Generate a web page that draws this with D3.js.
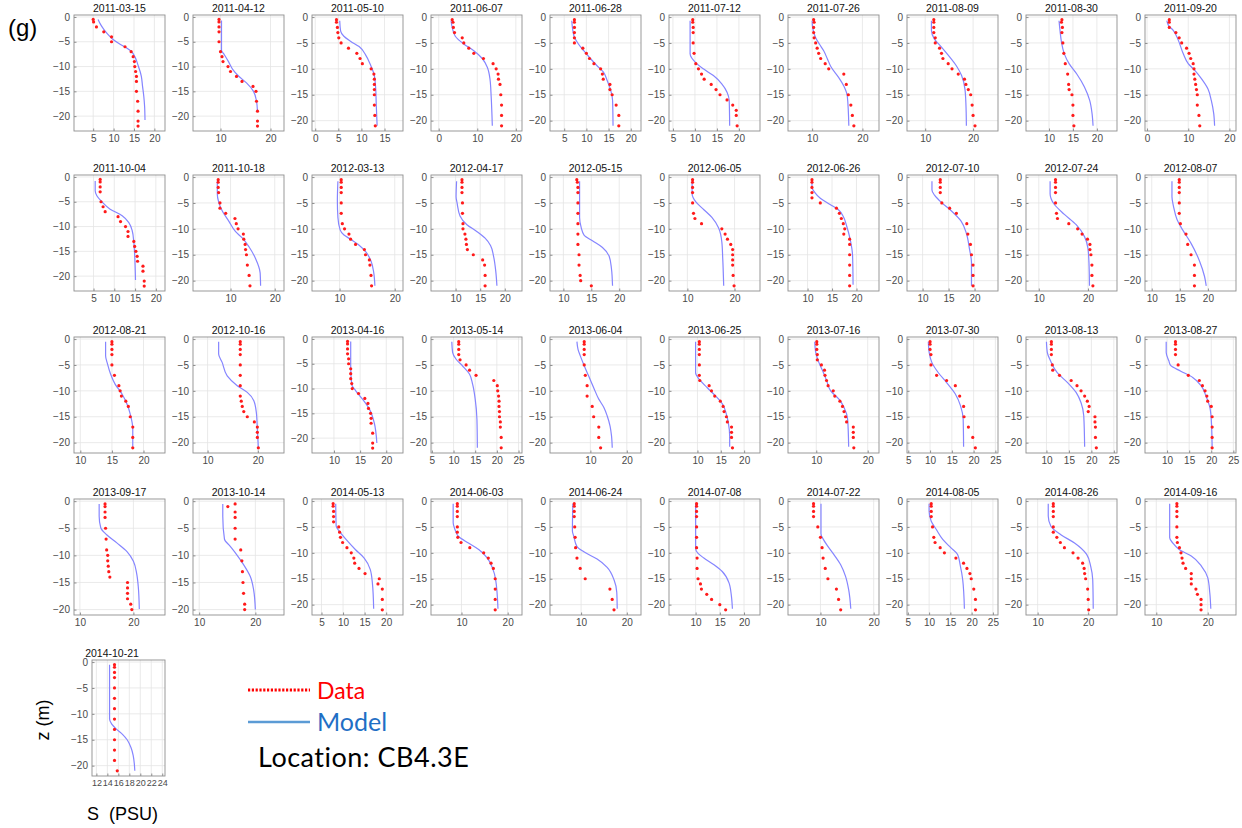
<!DOCTYPE html>
<html><head><meta charset="utf-8">
<script src="https://cdn.jsdelivr.net/npm/d3@7"></script>
<style>body{margin:0;background:#fff}svg{display:block}</style>
</head><body><svg id="c" width="1242" height="828"></svg>
<script>
const dates = ["2011-03-15","2011-04-12","2011-05-10","2011-06-07","2011-06-28","2011-07-12","2011-07-26","2011-08-09","2011-08-30","2011-09-20",
"2011-10-04","2011-10-18","2012-03-13","2012-04-17","2012-05-15","2012-06-05","2012-06-26","2012-07-10","2012-07-24","2012-08-07",
"2012-08-21","2012-10-16","2013-04-16","2013-05-14","2013-06-04","2013-06-25","2013-07-16","2013-07-30","2013-08-13","2013-08-27",
"2013-09-17","2013-10-14","2014-05-13","2014-06-03","2014-06-24","2014-07-08","2014-07-22","2014-08-05","2014-08-26","2014-09-16",
"2014-10-21"];

const xDomains = [[0.3,22.6],[4.5,22.7],[-0.7,19],[-2,21.6],[1.8,22.3],[4.1,24.8],[5.2,23.3],[6.2,25.2],[5.2,24.2],[-0.5,21.6],
[0.3,22.2],[1.5,22.1],[5,21.5],[5,23.5],[7.6,23.9],[6.1,25.4],[6,24.6],[7,24.5],[7.4,25.9],[8.8,25],
[9,23.4],[7.1,25.2],[5.8,23.2],[4.8,25.8],[-1.1,23.9],[3.9,23.4],[4.5,22.2],[4.7,25.6],[5.45,25.7],[5,25.6],
[8.9,25.9],[8.9,25.1],[2.8,23.9],[3.4,23.1],[3.2,23.1],[4.5,23.3],[3.9,21],[4.8,26.2],[7.7,25.7],[7.8,25.5],
[11.2,24.5]];

const xTicks = [[5,10,15,20],[10,20],[0,5,10,15],[0,10,20],[5,10,15,20],[5,10,15,20],[10,20],[10,20],[10,15,20],[0,10,20],
[5,10,15,20],[10,20],[10,20],[10,15,20],[10,15,20],[10,20],[10,15,20],[10,15,20],[10,20],[10,15,20],
[10,15,20],[10,20],[10,15,20],[5,10,15,20,25],[10,20],[10,15,20],[10,20],[5,10,15,20,25],[10,15,20,25],[10,15,20,25],
[10,20],[10,20],[5,10,15,20],[10,20],[10,20],[10,15,20],[10,20],[5,10,15,20,25],[10,20],[10,20],
[12,14,16,18,20,22,24]];

const zMins = [-23,-23,-22,-22,-22,-22,-22,-22,-22,-22,
-23,-22,-22,-22,-22,-22,-22,-22,-22,-22,
-22,-22,-23,-22,-22,-22,-22,-22,-22,-22,
-21,-21,-22,-22,-22,-22,-22,-22,-22,-22,
-22];
const zTicks = [0,-5,-10,-15,-20];

// model profiles: [depth z (m), salinity S (PSU)]
const modelProfiles = [
[[-0.5,6.2],[-1.5,6.8],[-2.5,7.6],[-3.5,8.6],[-4.5,9.8],[-5.5,11.6],[-6.3,13.3],[-7,14.4],[-8,15.2],[-9,15.7],[-10,16.1],[-11,16.5],[-12,16.8],[-14,17.1],[-16,17.4],[-18,17.6],[-20.8,17.7]],
[[-0.7,10.2],[-6.7,10.2],[-7.5,10.7],[-9,11.6],[-10.5,12.4],[-12,13.7],[-13.3,15.2],[-15,16.6],[-17,17.2],[-19,17.4]],
[[-0.7,5.3],[-2.7,5.5],[-3.7,6.2],[-4.7,7.7],[-5.7,9.5],[-7.3,10.9],[-9.3,12],[-11.3,12.8],[-14,13.1],[-16.7,13.2],[-21,13.4]],
[[-0.7,3.2],[-2,3.5],[-3.7,4.3],[-5.2,6.5],[-6.5,9.1],[-8,11.3],[-9.7,12.6],[-12,13.3],[-15.3,13.6],[-21,13.9]],
[[-0.7,6.7],[-2.3,6.9],[-3.9,7.3],[-5.2,8.2],[-6.5,9.4],[-8,10.9],[-9.4,12.4],[-10.6,13.8],[-12.3,14.7],[-14.2,15.5],[-16.1,15.9],[-21,16]],
[[-0.7,8.9],[-7.1,8.9],[-9,10.4],[-10,11.9],[-11.3,14.2],[-12.9,16.1],[-14.5,17.3],[-16.1,17.8],[-21,17.9]],
[[-0.7,10],[-2,10.1],[-4,10.7],[-5.3,11.5],[-6.5,12.3],[-8,13],[-9.7,13.8],[-11.7,15.3],[-13.3,16.3],[-15.3,17],[-21,17.3]],
[[-0.7,11.3],[-2.6,11.3],[-4.2,11.9],[-5.8,13.4],[-7.7,15.1],[-9.4,16.5],[-11.3,17.6],[-13.9,18.3],[-16.8,18.5],[-21,18.6]],
[[-0.7,12.1],[-2.6,12.3],[-4.8,12.6],[-7.1,13.2],[-9,14.2],[-11,15.8],[-13.5,17.4],[-16.1,18.5],[-18.7,19],[-21,19.2]],
[[-0.7,4.8],[-1.6,5.2],[-2.6,6.4],[-4.5,7.6],[-7.1,8.8],[-9,10],[-10.3,11.6],[-11.9,13.2],[-13.9,14.8],[-16.1,15.6],[-18.7,16.2],[-21,16.4]],
[[-0.8,5.4],[-2.8,5.4],[-3.8,5.8],[-5,7],[-6.5,9],[-7.8,11.9],[-9.2,13.5],[-10.8,14.3],[-13.2,14.7],[-15.8,14.9],[-20.8,15.1]],
[[-0.8,7],[-3.2,7],[-4.8,7.3],[-6.5,8.1],[-8.5,9.6],[-10.5,11.1],[-11.8,12.7],[-13.5,14.2],[-15.8,15.7],[-18.5,16.7],[-21,16.8]],
[[-0.8,9.7],[-4.5,9.6],[-7.8,9.7],[-10.2,10.1],[-11.2,10.8],[-12,12],[-13.2,13.6],[-14.5,14.8],[-16.2,15.7],[-18.5,16.2],[-21,16.4]],
[[-0.8,10.2],[-3.8,10.1],[-5,10.3],[-7.5,10.9],[-9.2,12.3],[-10.5,14.3],[-11.8,16],[-13.2,17.1],[-15.2,17.7],[-18.5,18.2],[-21,18.4]],
[[-0.8,12.9],[-7.8,12.9],[-9.8,13.2],[-11.2,13.7],[-12.3,15.2],[-13.6,17],[-15.3,18.2],[-17.6,18.6],[-21,18.8]],
[[-0.8,11],[-3.2,11],[-4.8,11.8],[-6.3,13.5],[-7.8,15.2],[-9.8,16.6],[-12.5,17.3],[-15.8,17.5],[-21,17.7]],
[[-0.8,10.9],[-2,10.9],[-3,11.5],[-4.1,12.6],[-5.3,14.6],[-6.3,16.3],[-7.6,17.3],[-9.5,18],[-12,18.7],[-15.2,19.2],[-20.8,19.3]],
[[-0.8,11.8],[-2.5,11.8],[-3.5,12.3],[-4.8,13.5],[-6.5,15.5],[-8.5,17.4],[-10.8,18.4],[-13.8,19],[-16.5,19.4],[-21,19.4]],
[[-0.8,12.3],[-3.2,12.3],[-5.2,13.1],[-7.2,15.2],[-9.2,17.6],[-11.5,19.3],[-13.8,20],[-16.5,20.2],[-21,20.3]],
[[-0.8,13.6],[-3.8,13.6],[-5.8,13.9],[-8.2,14.5],[-10.2,15.5],[-12.8,17],[-16.2,18.5],[-19.2,19.4],[-21,19.7]],
[[-0.5,14],[-3.2,14],[-4.8,14.3],[-6.8,14.8],[-8.7,15.5],[-10.6,16.6],[-12.6,17.4],[-14.5,17.9],[-17.4,18.3],[-20.8,18.3]],
[[-0.5,12.2],[-2.9,12.2],[-4.5,12.9],[-7.1,13.9],[-9,15.9],[-10.3,17.9],[-11.9,19.2],[-14.2,19.7],[-17.4,19.9],[-21,20.1]],
[[-0.5,13.2],[-5.4,13.2],[-9.2,13.4],[-10.5,14.2],[-12.2,15.5],[-14.2,16.8],[-16.9,17.7],[-21,18.2]],
[[-0.5,9.6],[-2.6,9.8],[-3.9,10.6],[-5.2,12.1],[-6.8,13.7],[-8.7,14.4],[-11.6,15],[-15.5,15.4],[-21,15.5]],
[[-0.5,6.3],[-2,6.6],[-3.2,7.2],[-4.8,8.1],[-7.1,9.5],[-9.4,10.9],[-11.6,12.3],[-13.2,13.7],[-14.8,14.6],[-16.8,15.4],[-18.7,15.8],[-21,16]],
[[-0.5,9.6],[-6.5,9.6],[-7.8,10.4],[-9.4,12.1],[-11,13.9],[-12.6,15.4],[-14.2,16.1],[-16.1,16.6],[-18.7,16.9],[-20.8,16.9]],
[[-0.5,9.7],[-2.6,9.9],[-4.5,10.5],[-6.5,11.4],[-8,12],[-10,12.8],[-11.6,14.4],[-13.2,15.4],[-15.5,16.1],[-20.8,16.3]],
[[-0.5,9.6],[-2.6,9.8],[-4.5,10.4],[-6.5,11.9],[-8.4,13.8],[-10.6,15.8],[-12.9,17],[-15.5,17.6],[-20.8,17.7]],
[[-0.5,10],[-2.6,10.2],[-4.2,10.9],[-6.5,12.4],[-8.4,14.7],[-10.3,16.6],[-12.3,17.7],[-14.8,18.3],[-20.8,18.5]],
[[-0.5,9.8],[-2.6,9.8],[-4.2,10.4],[-5.1,10.8],[-6.2,13.1],[-7.4,15.8],[-9,17.7],[-11,18.8],[-12.9,19.6],[-15.5,20],[-20.8,20.2]],
[[-0.5,13.6],[-2.8,13.6],[-4.9,13.9],[-6.2,15],[-7.7,16.9],[-9.3,18.8],[-11.1,20],[-13.3,20.6],[-15.7,20.9],[-19.9,21.1]],
[[-0.5,14.2],[-2.8,14.2],[-7,14.5],[-8.3,15.5],[-9.9,16.7],[-11.7,17.9],[-13.9,19.1],[-16.4,19.7],[-20,20]],
[[-0.5,8.3],[-4.8,8.4],[-6.1,9.4],[-7.7,11],[-9.4,12.9],[-11,14.9],[-13.2,16.3],[-15.8,16.8],[-20.8,17.1]],
[[-0.5,8.2],[-4.2,8.2],[-5.5,8.6],[-6.8,9.3],[-8.1,11.5],[-9.4,13.8],[-11,15.6],[-12.9,16.7],[-15.2,17.4],[-20.8,17.9]],
[[-0.5,8.2],[-5.8,8.1],[-6.8,8.4],[-8.8,9.1],[-9.8,10.6],[-11.2,13.5],[-12.8,15.7],[-15.2,17.2],[-17.6,17.8],[-20.8,17.9]],
[[-0.5,10],[-9.2,10],[-10.1,10.5],[-11,11.7],[-12.3,13.8],[-13.6,15.5],[-15.8,16.9],[-18.4,17.4],[-20.8,17.6]],
[[-0.5,10.1],[-6.3,10.1],[-7.5,10.6],[-8.6,11.3],[-10.3,12.5],[-12.3,13.8],[-14.5,14.7],[-17.1,15.3],[-20.8,15.7]],
[[-0.5,10],[-1.9,10],[-3.9,10.5],[-5.5,11.7],[-7.4,13.2],[-9,15.1],[-10.3,16.7],[-12.3,17.3],[-15.2,17.9],[-20.8,18.3]],
[[-0.5,12.1],[-2.9,12.1],[-4.8,12.6],[-6.5,14.6],[-8.1,17.3],[-10.3,19.7],[-12.6,20.5],[-15.2,20.9],[-20.8,21]],
[[-0.5,12.6],[-7.1,12.6],[-8.1,13.2],[-9.4,14.5],[-10.6,16.8],[-12.6,18.8],[-14.8,20],[-17.7,20.4],[-20.8,20.6]],
[[-0.5,14.4],[-11,14.4],[-12,14.8],[-13,15.7],[-14,16.8],[-15,17.6],[-16.5,18.3],[-18,18.7],[-21,19]]
];

// observed profiles: [depth z (m), salinity S (PSU)]
const dataProfiles = [
[[-0.5,5.0],[-1,5.1],[-2,5.8],[-3,7.6],[-4,9.5],[-5,9.5],[-6,12.8],[-7,14.3],[-8,14.8],[-9,15.1],[-10,15.2],[-11,15.4],[-12,15.6],[-13,15.6],[-15,15.6],[-17,15.9],[-19,16],[-21,16],[-22,16]],
[[-0.5,9.7],[-1,9.7],[-2,9.7],[-3,9.7],[-5,9.7],[-7,10],[-8,10.3],[-9,10.5],[-10,11.5],[-11,12],[-12,13.2],[-13,14.3],[-14,16.5],[-15,17.1],[-17,17.2],[-19,17.4],[-21,17.4],[-22,17.4]],
[[-0.5,4.6],[-1,4.6],[-2,4.8],[-3,4.9],[-4,5.1],[-5,5.6],[-6,7.2],[-7,9],[-8,9.7],[-9,10.2],[-10,12.1],[-11,12.7],[-12,12.8],[-13,12.8],[-14,12.8],[-15,12.8],[-17,12.8],[-19,12.9],[-21,13]],
[[-0.5,3.5],[-1,3.7],[-2,3.8],[-3,4.1],[-4,6.1],[-5,6.5],[-6,7.8],[-7,9.1],[-8,11.6],[-9,14.1],[-10,14.9],[-11,15.4],[-12,15.5],[-13,15.9],[-15,16.1],[-17,16.3],[-19,16.3],[-21,16.3]],
[[-0.5,7.3],[-1,7.3],[-2,7.3],[-3,7.3],[-4,7.3],[-5,7.3],[-6,9.2],[-7,10],[-8,10.7],[-9,11.7],[-10,13.2],[-11,13.6],[-12,13.8],[-13,15.3],[-14,15.3],[-15,15.8],[-17,16.7],[-19,17.3],[-21,17.3]],
[[-0.5,9.5],[-1,9.5],[-2,9.6],[-3,9.6],[-5,9.6],[-7,9.8],[-9,10.2],[-10,10.8],[-11,11.5],[-12,12.1],[-13,13.7],[-14,14.8],[-15,15.7],[-16,17.3],[-17,18.6],[-18,19.4],[-19,19.4],[-21,19.6]],
[[-0.5,10.3],[-1,10.4],[-2,10.3],[-3,10.3],[-4,10.4],[-5,10.7],[-6,11],[-7,11.3],[-8,11.7],[-9,12.6],[-10,13.3],[-11,16.3],[-13,16.8],[-15,17.2],[-17,17.7],[-19,18],[-21,18.3]],
[[-0.5,11.8],[-1,11.8],[-2,11.8],[-3,11.8],[-4,12.1],[-5,12.1],[-6,13],[-7,13.4],[-8,13.7],[-9,14.8],[-10,15.6],[-11,16.9],[-12,18.2],[-13,18.5],[-14,19],[-15,19.5],[-17,19.8],[-19,20],[-21,20.4]],
[[-0.5,12.7],[-1,12.6],[-2,12.8],[-3,12.7],[-5,12.9],[-7,13.1],[-9,13.4],[-11,13.9],[-13,14.1],[-14,14.2],[-15,14.8],[-17,15],[-19,15],[-21,15.2]],
[[-0.5,5.4],[-1,5.4],[-2,5.4],[-3,7],[-4,7.8],[-5,8.4],[-6,9.6],[-7,10.2],[-8,10.6],[-9,11.2],[-10,11.4],[-11,11.4],[-12,11.6],[-13,11.8],[-14,12],[-15,12.2],[-17,12.2],[-19,12.6],[-21,12.8]],
[[-0.5,6.6],[-1,6.6],[-2,6.6],[-3,6.6],[-5,6.8],[-6,7.3],[-7,7.8],[-8,10.9],[-9,11.5],[-10,12.7],[-11,13.3],[-12,13.3],[-13,14.7],[-14,14.9],[-15,15.2],[-16,15.5],[-17,15.6],[-18,16.9],[-19,16.9],[-21,17.2],[-22,17.2]],
[[-0.5,7.2],[-1,7.2],[-2,7.2],[-3,7.3],[-5,7.6],[-6,7.6],[-7,8.9],[-8,11],[-9,11.3],[-10,11.7],[-11,12.9],[-12,13],[-13,13.3],[-14,13.4],[-15,13.6],[-17,13.8],[-19,14.2],[-21,14.4]],
[[-0.5,10.3],[-1,10.3],[-2,10.3],[-3,10.3],[-5,10.3],[-7,10.3],[-9,10.5],[-10,10.9],[-11,11.7],[-12,12],[-13,12.9],[-14,14.5],[-15,14.7],[-16,15.4],[-17,15.5],[-19,15.7],[-21,15.8]],
[[-0.5,11.3],[-1,11.3],[-2,11.3],[-3,11.3],[-5,11.4],[-7,11.4],[-9,11.5],[-10,11.5],[-11,11.9],[-12,12.1],[-13,12.2],[-14,12.4],[-15,13.6],[-16,15.5],[-17,15.9],[-19,16],[-21,16]],
[[-0.5,12.4],[-1,12.5],[-2,12.6],[-3,12.6],[-5,12.6],[-7,12.6],[-9,12.6],[-11,12.6],[-13,12.6],[-15,12.8],[-17,12.8],[-19,13],[-20,13.1],[-21,15]],
[[-0.5,11.1],[-1,11.1],[-2,11.1],[-3,11.1],[-5,11.1],[-7,11.3],[-8,11.6],[-9,13],[-10,17.3],[-11,18],[-12,18.5],[-13,19.2],[-14,19.6],[-15,19.6],[-16,19.6],[-17,19.6],[-19,19.7],[-21,19.9]],
[[-0.5,10.9],[-1,10.9],[-2,10.9],[-3,10.9],[-4,10.9],[-5,12.6],[-6,15.9],[-7,16.5],[-8,16.9],[-9,17.3],[-10,17.6],[-11,17.4],[-12,18.6],[-13,18.6],[-15,18.6],[-17,18.6],[-19,18.6],[-21,18.6]],
[[-0.5,13.4],[-1,13.4],[-2,13.4],[-3,13.4],[-5,13.7],[-6,15.2],[-7,16.5],[-9,18.5],[-11,18.7],[-13,19.2],[-15,19.4],[-17,19.7],[-19,19.7],[-21,19.7]],
[[-0.5,13.4],[-1,13.4],[-2,13.4],[-3,13.4],[-5,13.4],[-7,13.6],[-8,13.8],[-9,16.1],[-10,17.9],[-11,18.8],[-12,19.9],[-13,20.4],[-14,20.4],[-15,20.6],[-17,20.8],[-19,20.8],[-21,21]],
[[-0.5,14.9],[-1,14.9],[-2,14.9],[-3,14.9],[-5,14.9],[-7,14.9],[-9,15.1],[-11,16.1],[-13,16.4],[-15,17],[-17,17.6],[-19,17.6],[-21,17.6]],
[[-0.5,15],[-1,15],[-2,15],[-3,15],[-5,15],[-7,15.4],[-9,16.1],[-10,16.3],[-11,16.5],[-12,17.2],[-13,17.6],[-15,17.9],[-17,18.3],[-19,18.3],[-21,18.3]],
[[-0.5,16.5],[-1,16.5],[-2,16.5],[-3,16.5],[-5,16.5],[-7,16.5],[-9,16.5],[-11,16.5],[-12,16.7],[-13,16.9],[-14,17.2],[-15,17.9],[-16,19.3],[-17,19.9],[-18,19.9],[-19,19.9],[-21,20.1]],
[[-0.5,12.6],[-1,12.6],[-2,12.6],[-3,12.6],[-4,12.8],[-5,12.8],[-6,13.2],[-7,13.2],[-8,13.2],[-9,13.4],[-10,13.5],[-11,14.7],[-12,15.9],[-13,16.5],[-14,16.6],[-15,17],[-16,17.1],[-17,17.1],[-19,17.4],[-21,17.4],[-22,17.4]],
[[-0.5,11.2],[-1,11.2],[-2,11.2],[-3,11.2],[-4,11.5],[-5,12.9],[-6,13.7],[-7,15.2],[-8,19.3],[-9,20.1],[-10,20.2],[-11,20.4],[-12,20.5],[-13,20.5],[-14,20.6],[-15,20.6],[-16,20.8],[-17,20.8],[-19,21],[-21,21]],
[[-0.5,8.3],[-1,8.3],[-2,8.3],[-3,8.3],[-5,8.3],[-7,8.6],[-9,9.1],[-11,9.1],[-13,10.5],[-15,10.9],[-17,12.3],[-19,12.3],[-21,12.8]],
[[-0.5,10.4],[-1,10.4],[-2,10.4],[-3,10.4],[-5,10.4],[-7,10.4],[-8,10.5],[-9,12.5],[-10,13],[-11,13.7],[-12,14.9],[-13,15.5],[-14,15.7],[-15,16.2],[-16,16.4],[-17,17.3],[-18,17.3],[-19,17.3],[-21,17.5]],
[[-0.5,10.1],[-1,10.1],[-2,10.1],[-3,10.2],[-4,10.2],[-5,11],[-6,11.6],[-7,11.7],[-8,12],[-9,12.3],[-10,13.3],[-11,13.6],[-12,14.6],[-13,15.1],[-14,15.4],[-15,15.7],[-16,15.9],[-17,17.2],[-18,17.2],[-19,17.2],[-21,17.3]],
[[-0.5,10],[-1,10],[-2,10],[-3,10.2],[-5,10.2],[-7,11.5],[-8,13.8],[-9,15.8],[-11,16.8],[-13,17.7],[-15,17.8],[-17,18.8],[-19,19.8],[-21,20.4]],
[[-0.5,11.1],[-1,11.1],[-2,11.1],[-3,11.1],[-5,11.3],[-6,11.4],[-7,12.9],[-8,15.5],[-9,16.8],[-10,17.7],[-11,18.5],[-12,19.1],[-13,19.5],[-14,19.3],[-15,20.8],[-16,20.8],[-17,20.9],[-19,20.9],[-21,21.1]],
[[-0.5,11.9],[-1,11.9],[-2,11.9],[-3,11.9],[-5,12.5],[-7,14.8],[-8,17.3],[-9,18],[-10,18.6],[-11,19],[-12,19.2],[-13,20],[-15,20.2],[-17,20.2],[-19,20.2],[-21,20.2]],
[[-0.5,14.7],[-1,14.7],[-2,14.7],[-3,14.7],[-5,14.8],[-7,14.9],[-9,15],[-10,15.2],[-11,15.2],[-12,15.3],[-13,15.4],[-14,15.6],[-15,18.9],[-16,18.9],[-17,18.9],[-18,18.9],[-19,19.5],[-20,19.7]],
[[-0.5,16.4],[-1,15.1],[-2,16.4],[-3,16.4],[-5,16.4],[-7,16.4],[-9,17.4],[-11,17.6],[-13,17.7],[-15,17.8],[-17,17.9],[-19,18.1],[-20,18.1]],
[[-0.5,7.7],[-1,7.7],[-2,7.8],[-3,7.8],[-4,7.8],[-5,9],[-6,9.2],[-7,9.4],[-8,9.9],[-9,10.9],[-10,11.9],[-11,12.5],[-12,12.7],[-13,13.7],[-14,15.1],[-15,18.4],[-16,18.1],[-17,19.1],[-19,19.1],[-21,19.1]],
[[-0.5,9.1],[-1,9.1],[-2,9.1],[-3,9.1],[-5,9.1],[-6,9.1],[-7,9.2],[-8,9.9],[-9,11.8],[-10,14.8],[-11,15.8],[-12,16.4],[-13,16.9],[-15,17.3],[-17,17.3],[-19,17.3],[-21,17.3]],
[[-0.5,8.5],[-1,8.5],[-2,8.5],[-3,8.5],[-5,8.6],[-7,8.7],[-9,8.8],[-11,9.1],[-13,9.8],[-15,10.9],[-17,16.3],[-19,16.8],[-21,17.2]],
[[-0.5,10.2],[-1,10.2],[-2,10.2],[-3,10.2],[-5,10.2],[-7,10.2],[-9,10.2],[-11,10.3],[-13,10.3],[-15,10.5],[-16,11],[-17,11.2],[-18,12.3],[-19,13.3],[-20,15],[-21,16.2]],
[[-0.5,8.7],[-1,8.7],[-2,8.7],[-3,8.7],[-5,9.5],[-7,10],[-9,10.3],[-11,10.5],[-13,10.9],[-15,11.4],[-17,13],[-19,13.4],[-21,13.8]],
[[-0.5,10.5],[-1,10.5],[-2,10.5],[-3,10.5],[-5,10.8],[-7,11.1],[-8,11.4],[-9,12.6],[-10,13.6],[-11,16.3],[-12,18.1],[-13,18.9],[-14,19.6],[-15,19.9],[-17,20.5],[-19,20.9],[-21,20.9]],
[[-0.5,13.1],[-1,13.1],[-2,13.1],[-3,13.1],[-5,13.1],[-6,13.1],[-7,13.8],[-8,14.5],[-9,15.3],[-10,17],[-11,18],[-12,18.9],[-13,19.2],[-14,19.3],[-15,19.5],[-17,19.9],[-19,20],[-21,20.1]],
[[-0.5,14],[-1,14],[-2,14],[-3,14],[-5,14],[-7,14],[-8,14.1],[-9,14.5],[-10,14.8],[-11,15],[-12,15.2],[-13,15.7],[-14,16.8],[-15,16.8],[-16,16.8],[-17,17.7],[-18,18],[-19,18.7],[-20,18.7],[-21,18.7]],
[[-0.5,15.3],[-1,15.3],[-2,15.3],[-3,15.3],[-5,15.3],[-7,15.3],[-9,15.3],[-11,15.3],[-13,15.3],[-15,15.3],[-17,15.3],[-19,15.3],[-21,15.8]]
];

const legendLabels = ["Data", "Model"];
const locationLabel = "Location: CB4.3E";
const panelLabel = "(g)";
const yAxisLabel = "z (m)";
const xAxisLabel = "S  (PSU)";

// ---------- drawing ----------
const svg = d3.select("#c");
const colLeft0 = 74, colStep = 119, pw = 91, ph = 116;
const rowTops = [15, 175, 337, 499, 660];
const zTop = 0.4;
const gridCol = "#e4e4e4", boxCol = "#8e8e8e", tickTextCol = "#4a4a4a";
const FONT = "'Liberation Sans', Arial, sans-serif";

dates.forEach((date, i) => {
  const r = Math.floor(i / 10), c = i % 10;
  let left = colLeft0 + c * colStep, w = pw;
  if (i === 40) { left = 92; w = 73; }
  const top = rowTops[r];
  const x = d3.scaleLinear().domain(xDomains[i]).range([0, w]);
  const y = d3.scaleLinear().domain([zTop, zMins[i]]).range([0, ph]);
  const g = svg.append("g").attr("transform", `translate(${left},${top})`);

  // grid
  g.append("g").selectAll("line").data(xTicks[i]).join("line")
    .attr("x1", d => x(d)).attr("x2", d => x(d)).attr("y1", 0).attr("y2", ph)
    .attr("stroke", gridCol).attr("stroke-width", 0.8);
  g.append("g").selectAll("line").data(zTicks.filter(t => t >= zMins[i])).join("line")
    .attr("x1", 0).attr("x2", w).attr("y1", d => y(d)).attr("y2", d => y(d))
    .attr("stroke", gridCol).attr("stroke-width", 0.8);

  // axes
  const fs = i === 40 ? "9px" : "10px";
  const ax = g.append("g").attr("transform", `translate(0,${ph})`)
    .call(d3.axisBottom(x).tickValues(xTicks[i]).tickSize(-2.5).tickPadding(4).tickFormat(d3.format("d")));
  ax.select(".domain").remove();
  ax.selectAll("line").attr("stroke", boxCol);
  ax.selectAll("text").attr("fill", tickTextCol).style("font-family", FONT).style("font-size", fs);

  const ay = g.append("g")
    .call(d3.axisLeft(y).tickValues(zTicks.filter(t => t >= zMins[i])).tickSize(-2.5).tickPadding(4).tickFormat(d3.format("d")));
  ay.select(".domain").remove();
  ay.selectAll("line").attr("stroke", boxCol);
  ay.selectAll("text").attr("fill", tickTextCol).style("font-family", FONT).style("font-size", "10px");

  // box
  g.append("rect").attr("width", w).attr("height", ph)
    .attr("fill", "none").attr("stroke", boxCol).attr("stroke-width", 0.9);

  // model line
  const line = d3.line().x(d => x(d[1])).y(d => y(d[0])).curve(d3.curveMonotoneY);
  g.append("path").datum(modelProfiles[i]).attr("d", line)
    .attr("fill", "none").attr("stroke", "#8585ff").attr("stroke-width", 1.2);

  // data dots
  g.append("g").selectAll("circle").data(dataProfiles[i]).join("circle")
    .attr("cx", d => x(d[1])).attr("cy", d => y(d[0])).attr("r", 1.6)
    .attr("fill", "#ff1a1a");

  // title
  const tx = i === 40 ? 20 : w / 2;
  g.append("text").attr("x", tx).attr("y", -3.5).attr("text-anchor", "middle")
    .style("font-family", FONT).style("font-size", "10.5px").attr("fill", "#111")
    .text(date);
});

// panel label
svg.append("text").attr("x", 8).attr("y", 36).style("font-family", FONT)
  .style("font-size", "24px").attr("fill", "#000").text(panelLabel);

// axis titles
svg.append("text").attr("transform", "translate(49,720) rotate(-90)").attr("text-anchor", "middle")
  .style("font-family", FONT).style("font-size", "18px").attr("fill", "#000").text(yAxisLabel);
svg.append("text").attr("x", 87).attr("y", 820).attr("xml:space", "preserve")
  .style("font-family", FONT).style("font-size", "18px").style("white-space", "pre").attr("fill", "#000").text(xAxisLabel);

// legend
const LFONT = "Lato, 'Open Sans', sans-serif";
svg.append("line").attr("x1", 248).attr("x2", 310).attr("y1", 690).attr("y2", 690)
  .attr("stroke", "#ff0000").attr("stroke-width", 3).attr("stroke-dasharray", "2.2,1.6");
svg.append("text").attr("x", 317).attr("y", 699).style("font-family", LFONT).style("font-size", "23px")
  .attr("fill", "#ff0000").text(legendLabels[0]);
svg.append("line").attr("x1", 248).attr("x2", 310).attr("y1", 722).attr("y2", 722)
  .attr("stroke", "#5b9bd5").attr("stroke-width", 2.5);
svg.append("text").attr("x", 317).attr("y", 731).style("font-family", LFONT).style("font-size", "25px")
  .attr("fill", "#1f6fc5").text(legendLabels[1]);
svg.append("text").attr("x", 258).attr("y", 767).style("font-family", LFONT).style("font-size", "27px")
  .style("letter-spacing", "0.5px").attr("fill", "#000").text(locationLabel);
</script>
</body></html>
